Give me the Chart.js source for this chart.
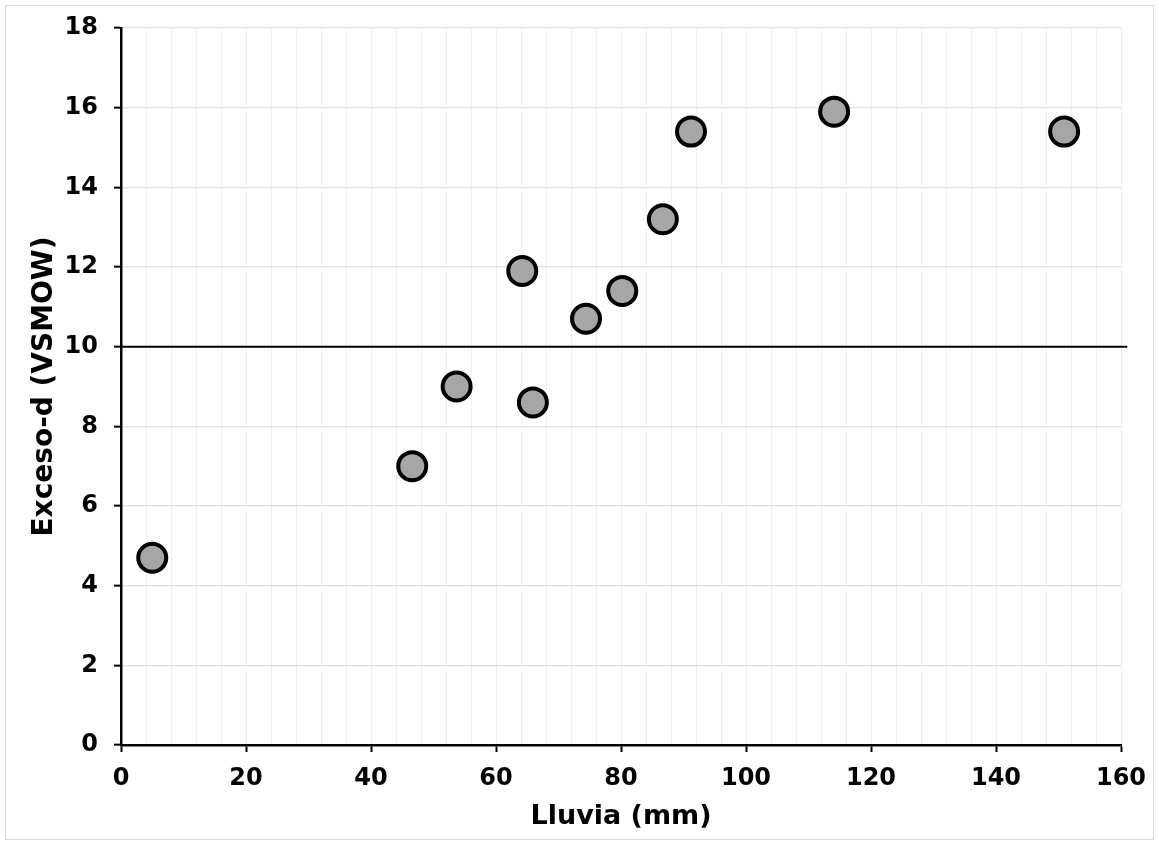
<!DOCTYPE html>
<html>
<head>
<meta charset="utf-8">
<script src="https://cdn.jsdelivr.net/npm/chart.js@4"></script>
<style>
  html, body { margin: 0; padding: 0; background: #fff; }
  #wrap { position: relative; width: 1159px; height: 846px; }
  #frame {
    position: absolute; left: 5px; top: 5px; width: 1149px; height: 835px;
    border: 1.5px solid #d9d9d9; box-sizing: border-box;
  }
  #chart { position: absolute; left: 0; top: 0; }
</style>
</head>
<body>
<div id="wrap">
  <div id="frame"></div>
  <canvas id="chart" width="1159" height="846"></canvas>
</div>
<script>
// Rainfall (mm) vs deuterium excess
const lluvia = [5, 46.6, 53.7, 64.2, 65.9, 74.4, 80.2, 86.7, 91.2, 114.1, 150.9];
const exceso = [4.7, 7.0, 9.0, 11.9, 8.6, 10.7, 11.4, 13.2, 15.4, 15.9, 15.4];

// Reference line at d = 10
const refLineX = [0, 161];
const refLineY = [10, 10];

const xTicks = { min: 0, max: 160, major: 20, minor: 4 };
const yTicks = { min: 0, max: 18, step: 2 };

const fontFamily = "Verdana, 'DejaVu Sans', sans-serif";

const points = lluvia.map((x, i) => ({ x: x, y: exceso[i] }));
const refLine = refLineX.map((x, i) => ({ x: x, y: refLineY[i] }));

const isMajorX = (v) => Math.abs(v % xTicks.major) < 1e-6;

const ctx = document.getElementById("chart").getContext("2d");
new Chart(ctx, {
  type: "scatter",
  data: {
    datasets: [
      {
        label: "Exceso-d",
        data: points,
        backgroundColor: "#a6a6a6",
        borderColor: "#000000",
        borderWidth: 4,
        pointRadius: 14,
        pointHoverRadius: 14,
        order: 1,
      },
      {
        label: "d = 10",
        type: "line",
        data: refLine,
        borderColor: "#000000",
        borderWidth: 2,
        pointRadius: 0,
        fill: false,
        clip: false,
        order: 2,
      },
    ],
  },
  options: {
    responsive: false,
    animation: false,
    layout: {
      padding: { left: 20, top: 28, right: 38, bottom: 12 },
    },
    plugins: {
      legend: { display: false },
      tooltip: { enabled: false },
    },
    scales: {
      x: {
        type: "linear",
        min: xTicks.min,
        max: xTicks.max,
        border: { display: true, color: "#000", width: 2.5 },
        grid: {
          color: (c) => (c.tick && c.tick.value === 0 ? "transparent" : "#f1f1f1"),
          lineWidth: 1,
          drawTicks: true,
          tickLength: 7,
          tickColor: (c) => (c.tick && isMajorX(c.tick.value) ? "#000" : "transparent"),
          tickWidth: 2,
        },
        ticks: {
          stepSize: xTicks.minor,
          autoSkip: false,
          maxRotation: 0,
          color: "#000",
          padding: 12,
          font: { family: fontFamily, size: 24, weight: "bold" },
          callback: (v) => (isMajorX(v) ? v : ""),
        },
        title: {
          display: true,
          text: "Lluvia (mm)",
          color: "#000",
          padding: { top: 8, bottom: 1 },
          font: { family: fontFamily, size: 27, weight: "bold" },
        },
        afterFit: (scale) => { scale.height = 846 - 745 - 12; },
      },
      y: {
        type: "linear",
        min: yTicks.min,
        max: yTicks.max,
        border: { display: true, color: "#000", width: 2.5 },
        grid: {
          color: (c) => (c.tick && c.tick.value === 0 ? "transparent" : "#e0e0e0"),
          lineWidth: 1.3,
          drawTicks: true,
          tickLength: 7,
          tickColor: "#000",
          tickWidth: 2,
        },
        ticks: {
          stepSize: yTicks.step,
          color: "#000",
          padding: 16,
          font: { family: fontFamily, size: 24, weight: "bold" },
        },
        title: {
          display: true,
          text: "Exceso-d (VSMOW)",
          color: "#000",
          padding: { top: 8, bottom: 0 },
          font: { family: fontFamily, size: 28, weight: "bold" },
        },
        afterFit: (scale) => {
          scale.width = 121 - 20;
          // keep the plot top pinned to the layout padding
          scale.paddingTop = 0;
          scale.paddingBottom = 0;
        },
      },
    },
  },
});
</script>
</body>
</html>
